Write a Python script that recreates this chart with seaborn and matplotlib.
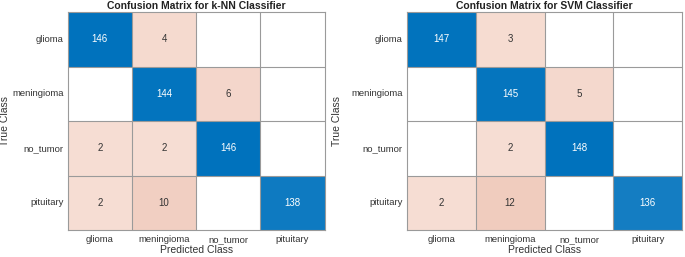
import numpy as np
import matplotlib
matplotlib.use("Agg")
import matplotlib.pyplot as plt
import seaborn as sns
from matplotlib.colors import LinearSegmentedColormap

classes = ["glioma", "meningioma", "no_tumor", "pituitary"]

knn_counts = [[146, 4, 0, 0],
              [0, 144, 6, 0],
              [2, 2, 146, 0],
              [2, 10, 0, 138]]

svm_counts = [[147, 3, 0, 0],
              [0, 145, 5, 0],
              [0, 2, 148, 0],
              [2, 12, 0, 136]]

titles = ["Confusion Matrix for k-NN Classifier", "Confusion Matrix for SVM Classifier"]

sns.set_style("white")
plt.rcParams["font.family"] = ["Liberation Sans", "DejaVu Sans"]

blue_cmap = LinearSegmentedColormap.from_list("diag", ["#ffffff", "#0072BD"])
red_cmap = LinearSegmentedColormap.from_list("off", ["#F7DFD5", "#F0CCBE"])

fig = plt.figure(figsize=(6.85, 2.57), dpi=100)
ax_pos = [[0.099, 0.105, 0.375, 0.848], [0.594, 0.105, 0.402, 0.848]]
ylabel_x = [-0.226, -0.236]


def draw_cm(ax, counts, title, lab_x):
    cm = np.array(counts)
    eye = np.eye(len(classes), dtype=bool)
    diag_mask = ~eye
    off_mask = eye | (cm == 0)
    # diagonal cells in blue, errors in salmon, zeros stay white
    sns.heatmap(cm, mask=diag_mask, cmap=blue_cmap, vmin=0, vmax=cm.diagonal().max(),
                cbar=False, ax=ax, linewidths=0)
    sns.heatmap(cm, mask=off_mask, cmap=red_cmap, vmin=1, vmax=12,
                cbar=False, ax=ax, linewidths=0)
    n = len(classes)
    for i in range(n):
        for j in range(n):
            if cm[i, j] == 0:
                continue
            color = "white" if i == j else "#333333"
            ax.text(j + 0.5, i + 0.5, str(cm[i, j]), ha="center", va="center",
                    fontsize=7, color=color)
    for k in range(1, n):
        ax.axhline(k, color="#9a9a9a", lw=0.8)
        ax.axvline(k, color="#9a9a9a", lw=0.8)
    for s in ax.spines.values():
        s.set_visible(True)
        s.set_color("#9a9a9a")
        s.set_linewidth(0.8)
    ax.set_xticks(np.arange(n) + 0.5)
    ax.set_yticks(np.arange(n) + 0.5)
    ax.set_xticklabels(classes, fontsize=6.8, color="#333333", rotation=0)
    ax.set_yticklabels(classes, fontsize=6.8, color="#333333", rotation=0)
    ax.tick_params(axis="y", length=0, pad=3)
    ax.tick_params(axis="x", length=0, pad=8.5)
    for lbl in ax.get_xticklabels():
        lbl.set_va("baseline")
    ax.set_xlabel("Predicted Class", fontsize=7.5, color="#333333", labelpad=1)
    ax.set_ylabel("True Class", fontsize=7.5, color="#333333")
    ax.yaxis.set_label_coords(lab_x, 0.5)
    ax.set_title(title, fontsize=7.5, fontweight="bold", color="#222222", pad=2)


for pos, counts, title, lx in zip(ax_pos, [knn_counts, svm_counts], titles, ylabel_x):
    ax = fig.add_axes(pos)
    draw_cm(ax, counts, title, lx)

fig.savefig("out.png", dpi=100)
